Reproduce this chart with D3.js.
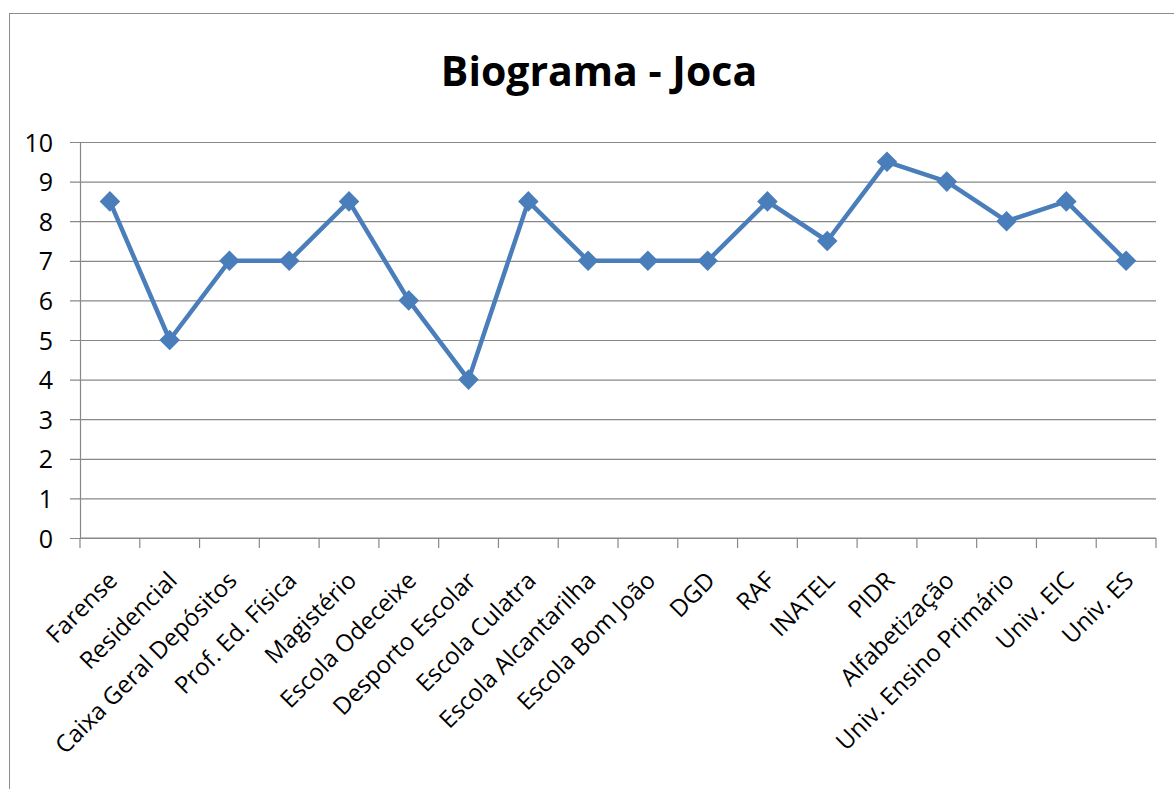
<!DOCTYPE html>
<html>
<head>
<meta charset="utf-8">
<script src="https://cdn.jsdelivr.net/npm/d3@7"></script>
<style>
  body { margin: 0; background: #fff; }
  svg text { font-family: "Open Sans", "Noto Sans", sans-serif; fill: #000; }
</style>
</head>
<body>
<svg id="viz" width="1174" height="789"></svg>
<script>
// Biograma - Joca
var categories = ["Farense", "Residencial", "Caixa Geral Depósitos", "Prof. Ed. Física",
    "Magistério", "Escola Odeceixe", "Desporto Escolar", "Escola Culatra",
    "Escola Alcantarilha", "Escola Bom João", "DGD", "RAF", "INATEL", "PIDR",
    "Alfabetização", "Univ. Ensino Primário", "Univ. EIC", "Univ. ES"];
var values = [8.5, 5, 7, 7, 8.5, 6, 4, 8.5, 7, 7, 7, 8.5, 7.5, 9.5, 9, 8, 8.5, 7];
var yTicks = [0, 1, 2, 3, 4, 5, 6, 7, 8, 9, 10];

var svg = d3.select("#viz");
var margin = { top: 142, left: 80, right: 1156, bottom: 538 };

// outer frame
svg.append("rect")
    .attr("x", 9.5).attr("y", 13.5)
    .attr("width", 1200).attr("height", 800)
    .attr("fill", "none").attr("stroke", "#8c8c8c").attr("stroke-width", 1);

svg.append("text")
    .attr("x", 599).attr("y", 86)
    .attr("text-anchor", "middle")
    .style("font-size", "41px").style("font-weight", "bold")
    .text("Biograma - Joca");

var xScale = d3.scaleBand().domain(categories).range([margin.left, margin.right]);
var yScale = d3.scaleLinear().domain([0, 10]).range([margin.bottom, margin.top]);

//GRID + Y AXIS
var yAxis = d3.axisLeft(yScale).tickValues(yTicks).tickSize(10).tickPadding(17);
var gy = svg.append("g").attr("transform", "translate(" + margin.left + ",0)").call(yAxis);
gy.select(".domain").attr("stroke", "#888").attr("stroke-width", 1.2);
gy.selectAll(".tick line").attr("stroke", "#888").attr("stroke-width", 1.2)
    .attr("x2", margin.right - margin.left).attr("x1", -10);
gy.selectAll(".tick text").style("font-size", "25px").attr("dy", "0.36em");

//X AXIS
var gx = svg.append("g").attr("transform", "translate(0," + margin.bottom + ")");
gx.append("line").attr("x1", margin.left).attr("x2", margin.right)
    .attr("stroke", "#888").attr("stroke-width", 1.2);
var bounds = categories.map(function (c) { return xScale(c); }).concat([margin.right]);
gx.selectAll(".xt").data(bounds).enter().append("line")
    .attr("x1", function (d) { return d; }).attr("x2", function (d) { return d; })
    .attr("y1", 0).attr("y2", 10)
    .attr("stroke", "#888").attr("stroke-width", 1.2);
gx.selectAll(".xl").data(categories).enter().append("text")
    .attr("text-anchor", "end")
    .style("font-size", "24px")
    .attr("transform", function (d) {
        var x = xScale(d) + xScale.bandwidth() / 2 + 9;
        return "translate(" + x + ",44) rotate(-45)";
    })
    .text(function (d) { return d; });

//LINE
var pts = categories.map(function (c, i) { return [xScale(c) + xScale.bandwidth() / 2, yScale(values[i])]; });
svg.append("path")
    .attr("d", d3.line()(pts))
    .attr("fill", "none").attr("stroke", "#4a7ebb").attr("stroke-width", 4.5)
    .attr("stroke-linejoin", "round");

svg.selectAll(".marker").data(pts).enter().append("path")
    .attr("d", d3.symbol().type(d3.symbolDiamond2).size(270)())
    .attr("transform", function (d) { return "translate(" + d[0] + "," + d[1] + ")"; })
    .attr("fill", "#4a7ebb");
</script>
</body>
</html>
